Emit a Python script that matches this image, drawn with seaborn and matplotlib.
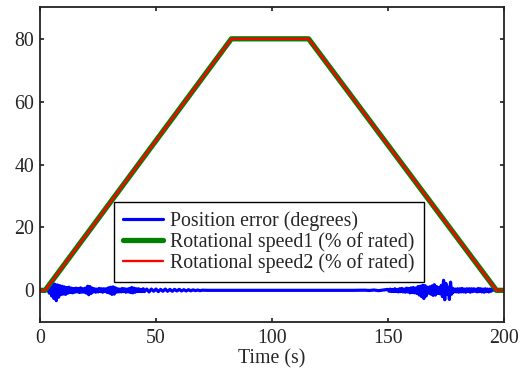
import matplotlib
matplotlib.use("Agg")
import matplotlib.pyplot as plt
import pandas as pd
import seaborn as sns

# speed profiles (% of rated)
speed_t = [0, 2.2, 82.5, 115.8, 196.8, 200]
speed1 = [0, 0, 80, 80, 0, 0]
speed2 = [0, 0, 80, 80, 0, 0]

# position error (degrees)
err_t = (
    [0, 1, 2, 3]
    + [3.5, 4.0, 4.5, 5.0, 5.5, 6.0, 6.5, 7.0, 7.5, 8.0, 8.5, 9.0, 9.5, 10.0,
       10.5, 11.0, 11.5, 12.0, 12.5, 13.0, 13.5, 14.0, 14.5, 15.0, 15.5, 16.0,
       16.5, 17.0, 17.5, 18.0, 18.5, 19.0, 19.5, 20.0]
    + [20.5, 21, 21.5, 22, 22.5, 23, 23.5, 24, 24.5, 25, 25.5, 26, 26.5, 27,
       27.5, 28, 28.5, 29, 29.5, 30, 30.5, 31, 31.5, 32, 32.5, 33, 33.5, 34,
       34.5, 35, 35.5, 36, 36.5, 37, 37.5, 38, 38.5, 39, 39.5, 40, 40.5, 41,
       41.5, 42, 42.5, 43, 43.5, 44, 44.5, 45]
    + [46, 47, 48, 49, 50, 51, 52, 53, 54, 55, 56, 57, 58, 59, 60, 61, 62, 63,
       64, 65, 66, 67, 68, 69, 70]
    + [72, 75, 80, 85, 90, 95, 100, 105, 110, 115, 120, 125, 130, 135, 140,
       142, 144, 146, 148]
    + [150, 150.5, 151, 151.5, 152, 152.5, 153, 153.5, 154, 154.5, 155, 155.5,
       156, 156.5, 157, 157.5, 158, 158.5, 159, 159.5, 160, 160.5, 161, 161.5,
       162, 162.5, 163, 163.5, 164, 164.5, 165, 165.5, 166, 166.5, 167, 167.5,
       168, 168.5, 169, 169.5, 170, 170.5, 171, 171.5, 172, 172.5, 173, 173.5,
       174, 174.5, 175, 175.5, 176, 176.5, 177, 177.5, 178, 178.5, 179, 179.5,
       180]
    + [180.5, 181, 181.5, 182, 182.5, 183, 183.5, 184, 184.5, 185, 185.5, 186,
       186.5, 187, 187.5, 188, 188.5, 189, 189.5, 190, 190.5, 191, 191.5, 192,
       192.5, 193, 193.5, 194, 194.5, 195, 196, 197, 200]
)
err_v = (
    [0, 0, 0, 0.1]
    + [0.6, -0.9, 1.6, -1.8, 2.4, -2.6, 1.9, -3.3, 1.7, -2.2, 1.5, -1.4, 1.3,
       -1.2, 1.1, -1.3, 0.9, -0.9, 1.0, -0.7, 0.7, -0.8, 0.6, -0.6, 0.7, -0.5,
       0.6, -0.7, 0.8, -0.6, 0.5, -0.6, 0.7, -0.9]
    + [1.3, -1.4, 1.2, -1.0, 0.7, -0.5, 0.5, -0.6, 0.4, -0.5, 0.6, -0.4, 0.5,
       -0.6, 0.5, -0.4, 0.5, -0.7, 0.8, -0.9, 1.0, -1.3, 1.1, -1.2, 0.8, -0.6,
       0.5, -0.5, 0.4, -0.5, 0.6, -0.4, 0.5, -0.6, 0.4, -0.5, 0.6, -0.7, 0.9,
       -0.8, 0.7, -0.6, 0.5, -0.4, 0.5, -0.4, 0.3, -0.4, 0.5, -0.4]
    + [0.4, -0.5, 0.4, -0.3, 0.4, -0.4, 0.3, -0.3, 0.4, -0.3, 0.3, -0.3, 0.3,
       -0.2, 0.3, -0.2, 0.2, -0.2, 0.2, -0.15, 0.15, -0.1, 0.1, -0.1, 0.05]
    + [0, 0, 0, 0, 0, 0, 0, 0, 0, 0, 0, 0, 0, 0, 0.05, -0.05, 0.1, -0.1, 0.1]
    + [0.3, -0.3, 0.4, -0.4, 0.3, -0.4, 0.5, -0.4, 0.3, -0.5, 0.5, -0.4, 0.6,
       -0.5, 0.4, -0.6, 0.7, -0.5, 0.6, -0.8, 0.8, -0.7, 0.9, -0.8, 0.7, -1.0,
       1.2, -1.5, 1.3, -2.0, 1.6, -2.6, 1.5, -1.8, 1.0, -0.9, 1.1, -1.2, 1.4,
       -1.6, 1.8, -1.5, 1.2, -1.0, 0.9, -1.1, 1.6, -2.0, 3.2, -3.0, 2.2, -1.2,
       1.0, -2.9, 2.6, -1.2, 0.6, -0.5, 0.4, -0.5, 0.5]
    + [-0.6, 0.5, -0.5, 0.6, -0.5, 0.4, -0.6, 0.5, -0.4, 0.5, -0.6, 0.5, -0.4,
       0.5, -0.3, 0.4, -0.5, 0.6, -0.4, 0.5, -0.5, 0.4, -0.6, 0.5, -0.4, 0.4,
       -0.5, 0.4, -0.3, 0.2, 0, 0, 0]
)

sns.set_theme(style="ticks")
FS = 14.3
plt.rcParams.update({
    "font.family": ["Liberation Serif", "DejaVu Serif"],
    "font.size": FS,
    "axes.labelsize": FS,
    "axes.linewidth": 1.3,
    "axes.edgecolor": "#222222",
    "xtick.direction": "in",
    "ytick.direction": "in",
    "xtick.top": True,
    "ytick.right": True,
    "xtick.major.size": 3,
    "ytick.major.size": 3,
    "xtick.major.pad": 5,
    "ytick.major.pad": 4,
    "xtick.labelsize": FS,
    "ytick.labelsize": FS,
    "legend.fontsize": FS,
})

err_df = pd.DataFrame({"t": err_t, "v": err_v})
spd_df = pd.DataFrame({"t": speed_t, "s1": speed1, "s2": speed2})

fig = plt.figure(figsize=(5.2, 3.69), dpi=100)
ax = fig.add_axes([0.077, 0.128, 0.892, 0.852])

sns.lineplot(data=err_df, x="t", y="v", ax=ax, color="#0000ff", lw=2.3,
             label="Position error (degrees)", sort=False)
sns.lineplot(data=spd_df, x="t", y="s1", ax=ax, color="#008000", lw=3.8,
             label="Rotational speed1 (% of rated)", sort=False)
sns.lineplot(data=spd_df, x="t", y="s2", ax=ax, color="#ff0000", lw=1.7,
             label="Rotational speed2 (% of rated)", sort=False)

ax.set_xlim(0, 200)
ax.set_ylim(-10, 90)
ax.set_xticks([0, 50, 100, 150, 200])
ax.set_yticks([0, 20, 40, 60, 80])
ax.set_xlabel("Time (s)", labelpad=1)
ax.set_ylabel("")

leg = ax.legend(loc="lower left", bbox_to_anchor=(0.159, 0.127),
                frameon=True, fancybox=False, edgecolor="black",
                framealpha=1, borderpad=0.45, labelspacing=0.05,
                handlelength=2.05, handletextpad=0.35, borderaxespad=0)
leg.get_frame().set_linewidth(1.0)

fig.savefig("out.png", dpi=100)
